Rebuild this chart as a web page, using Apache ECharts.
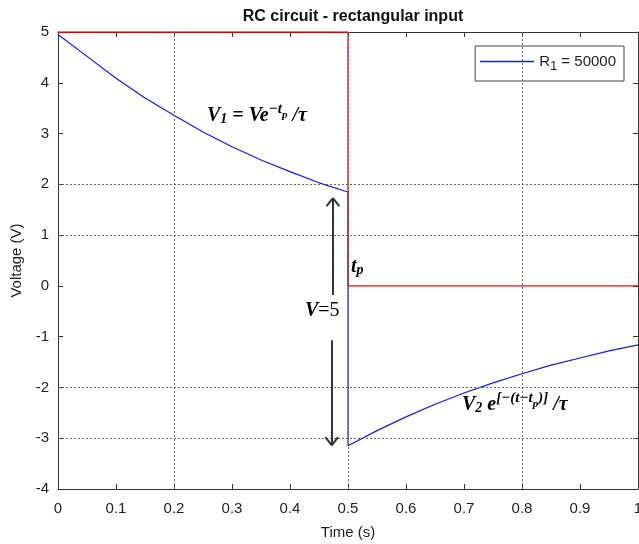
<!DOCTYPE html>
<html>
<head>
<meta charset="utf-8">
<script src="https://cdn.jsdelivr.net/npm/echarts@6/dist/echarts.min.js"></script>
<style>
  html, body { margin: 0; padding: 0; background: #fff; }
  #chart { width: 639px; height: 544px; }
</style>
</head>
<body>
<div id="chart"></div>
<script>
(function() {
  // capacitor voltage
  var tBlue = [0, 0.05, 0.1, 0.15, 0.2, 0.25, 0.3, 0.35, 0.4, 0.45, 0.5,
               0.5, 0.55, 0.6, 0.65, 0.7, 0.75, 0.8, 0.85, 0.9, 0.95, 1.0];
  var vBlue = [4.95, 4.52, 4.09, 3.70, 3.36, 3.03, 2.74, 2.48, 2.25, 2.03, 1.85,
               -3.15, -2.85, -2.58, -2.33, -2.11, -1.91, -1.73, -1.56, -1.42, -1.28, -1.16];
  // rectangular input
  var tRed = [0, 0.5, 0.5, 1];
  var vRed = [5, 5, 0, 0];

  var gridX = [0.2, 0.5, 0.8];
  var gridY = [2, 1, -2, -3];

  // arrow annotations: [x, yTail, yTip]
  var arrowUp = [0.474, -0.18, 1.73];
  var arrowDown = [0.472, -1.07, -3.14];
  var headW = 0.011, headH = 0.16;

  var ink = '#1e1e1e';
  var axisColor = '#333';
  var sans = '"Liberation Sans", Arial, sans-serif';

  function arrowSegs(a) {
    var x = a[0], y0 = a[1], y1 = a[2];
    var dir = y1 > y0 ? -1 : 1;
    return [
      [{ coord: [x, y0] }, { coord: [x, y1] }],
      [{ coord: [x - headW, y1 + dir * headH] }, { coord: [x, y1] }],
      [{ coord: [x + headW, y1 + dir * headH] }, { coord: [x, y1] }]
    ];
  }

  var serif = '"Liberation Serif", "DejaVu Serif", serif';
  var mathRich = {
    b: { fontFamily: serif, fontStyle: 'italic', fontWeight: 'bold', fontSize: 20, lineHeight: 24, verticalAlign: 'bottom', color: '#2a2a2a' },
    r: { fontFamily: serif, fontSize: 20, lineHeight: 24, verticalAlign: 'bottom', color: '#2a2a2a' },
    s: { fontFamily: serif, fontStyle: 'italic', fontWeight: 'bold', fontSize: 14, lineHeight: 13, verticalAlign: 'bottom', color: '#2a2a2a' },
    sp: { fontFamily: serif, fontStyle: 'italic', fontWeight: 'bold', fontSize: 15, lineHeight: 14, verticalAlign: 'top', color: '#2a2a2a' },
    ss: { fontFamily: serif, fontStyle: 'italic', fontWeight: 'bold', fontSize: 11, lineHeight: 10, verticalAlign: 'top', padding: [8, 0, 0, 0], color: '#2a2a2a' }
  };

  var chart = echarts.init(document.getElementById('chart'), null, { renderer: 'canvas' });

  var xBase = { type: 'value', min: 0, max: 1, interval: 0.1,
    axisLine: { show: true, onZero: false, lineStyle: { color: axisColor, width: 1 } },
    axisTick: { show: true, inside: true, length: 5, lineStyle: { color: axisColor } },
    splitLine: { show: false } };
  var yBase = { type: 'value', min: -4, max: 5, interval: 1,
    axisLine: { show: true, onZero: false, lineStyle: { color: axisColor, width: 1 } },
    axisTick: { show: true, inside: true, length: 5, lineStyle: { color: axisColor } },
    splitLine: { show: false } };

  chart.setOption({
    animation: false,
    title: {
      text: 'RC circuit - rectangular input',
      left: 348, top: 4, textAlign: 'center',
      textStyle: { fontFamily: sans, fontSize: 16, fontWeight: 'bold', color: '#111' }
    },
    legend: {
      data: [{ name: 'R1', icon: 'rect' }],
      right: 15, top: 46,
      padding: [8, 8, 8, 5],
      itemWidth: 54, itemHeight: 1.3, itemGap: 4,
      borderColor: '#444', borderWidth: 1, backgroundColor: '#fff',
      formatter: function() { return 'R{sub|1} = 50000'; },
      textStyle: {
        fontFamily: sans, fontSize: 15, color: ink,
        rich: { sub: { fontFamily: sans, fontSize: 13, color: ink, verticalAlign: 'bottom', padding: [10, 0, 0, 0] } }
      }
    },
    grid: { left: 58, right: 1, top: 32, bottom: 55, show: false, outerBoundsMode: 'none', containLabel: false },
    xAxis: [
      Object.assign({}, xBase, { position: 'bottom',
        name: 'Time (s)', nameLocation: 'middle', nameGap: 36,
        nameTextStyle: { fontFamily: sans, fontSize: 15, color: ink },
        axisLabel: { fontFamily: sans, fontSize: 15, color: ink, margin: 12 } }),
      Object.assign({}, xBase, { position: 'top', axisLabel: { show: false } })
    ],
    yAxis: [
      Object.assign({}, yBase, { position: 'left',
        name: 'Voltage (V)', nameLocation: 'middle', nameGap: 33,
        nameTextStyle: { fontFamily: sans, fontSize: 15, color: ink },
        axisLabel: { fontFamily: sans, fontSize: 15, color: ink, margin: 9 } }),
      Object.assign({}, yBase, { position: 'right', axisLabel: { show: false } })
    ],
    series: [
      {
        name: 'grid', type: 'line', data: [], z: 1, silent: true,
        markLine: {
          silent: true, symbol: 'none', label: { show: false },
          lineStyle: { color: '#666', type: [2, 2], width: 1 },
          data: gridY.map(function(v) { return { yAxis: v }; })
            .concat(gridX.map(function(v) { return { xAxis: v }; }))
        }
      },
      {
        name: 'R1', type: 'line', symbol: 'none',
        data: tBlue.map(function(t, i) { return [t, vBlue[i]]; }),
        lineStyle: { color: '#1515ff', width: 1.2 }, itemStyle: { color: '#1515ff' }, z: 3
      },
      {
        name: 'input', type: 'line', symbol: 'none',
        data: tRed.map(function(t, i) { return [t, vRed[i]]; }),
        lineStyle: { color: '#ff0000', width: 1.3 }, itemStyle: { color: '#ff0000' }, z: 4
      },
      {
        name: 'arrows', type: 'line', data: [], z: 5, silent: true,
        markLine: {
          silent: true, symbol: 'none', label: { show: false },
          lineStyle: { color: '#333', type: 'solid', width: 2 },
          data: arrowSegs(arrowUp).concat(arrowSegs(arrowDown))
        }
      }
    ],
    graphic: [
      { type: 'text', left: 207, top: 102,
        style: { text: '{b|V}{s|1}{b| = Ve}{sp|−t}{ss|p}{b| /τ}', rich: mathRich } },
      { type: 'text', left: 351, top: 257,
        style: { text: '{b|t}{s|p}', rich: mathRich } },
      { type: 'text', left: 305, top: 301,
        style: { text: '{b|V}{r|=5}', rich: mathRich } },
      { type: 'text', left: 462, top: 391,
        style: { text: '{b|V}{s|2}{b| e}{sp|[−(t−t}{ss|p}{sp|)]}{b| /τ}', rich: mathRich } }
    ]
  });
  window.addEventListener('resize', function() { chart.resize(); });
})();
</script>
</body>
</html>
